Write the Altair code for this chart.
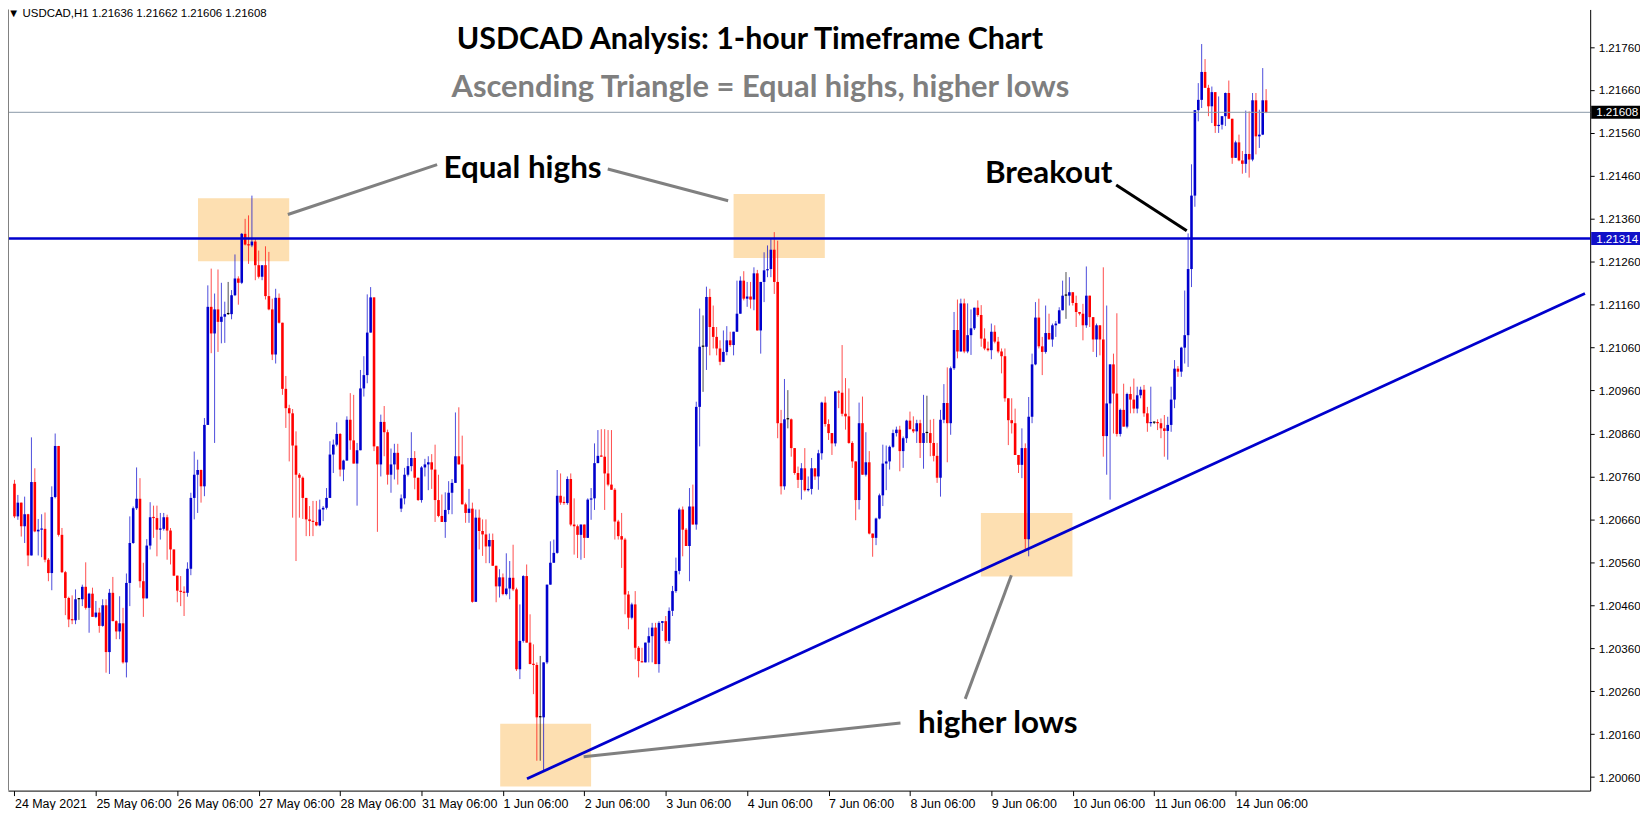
import altair as alt
import pandas as pd

# ---------------- data (USDCAD H1) ----------------
first_open = 1.20743
weekend_gap_bar = 114
weekend_gap_open = 1.20685

closes = [
    1.20667, 1.20699, 1.20644, 1.20672, 1.20576, 1.20747, 1.20632, 1.20636, 1.20638, 1.20566,
    1.20535, 1.20712, 1.20831, 1.20624, 1.20537, 1.20477, 1.20427, 1.20425, 1.20474, 1.20474,
    1.20503, 1.20454, 1.20487, 1.20433, 1.20443, 1.20412, 1.20460, 1.20351, 1.20489, 1.20423,
    1.20399, 1.20418, 1.20327, 1.20512, 1.20605, 1.20686, 1.20708, 1.20516, 1.20476, 1.20599,
    1.20665, 1.20663, 1.20636, 1.20638, 1.20665, 1.20634, 1.20590, 1.20529, 1.20494, 1.20491,
    1.20489, 1.20545, 1.20710, 1.20764, 1.20775, 1.20737, 1.20880, 1.21155, 1.21093, 1.21149,
    1.21120, 1.21132, 1.21138, 1.21138, 1.21182, 1.21221, 1.21211, 1.21325, 1.21300, 1.21298,
    1.21307, 1.21252, 1.21225, 1.21252, 1.21180, 1.21149, 1.21044, 1.21176, 1.21118, 1.20964,
    1.20919, 1.20907, 1.20832, 1.20764, 1.20757, 1.20710, 1.20660, 1.20656, 1.20654, 1.20646,
    1.20683, 1.20687, 1.20710, 1.20811, 1.20834, 1.20859, 1.20776, 1.20797, 1.20892, 1.20844,
    1.20790, 1.20821, 1.20965, 1.20996, 1.21095, 1.21177, 1.20830, 1.20788, 1.20887, 1.20863,
    1.20764, 1.20788, 1.20815, 1.20776, 1.20709, 1.20764, 1.20784, 1.20803, 1.20757, 1.20705,
    1.20781, 1.20788, 1.20793, 1.20776, 1.20705, 1.20668, 1.20654, 1.20682, 1.20722, 1.20745,
    1.20807, 1.20788, 1.20695, 1.20675, 1.20685, 1.20468, 1.20664, 1.20633, 1.20625, 1.20597,
    1.20612, 1.20552, 1.20504, 1.20525, 1.20486, 1.20499, 1.20524, 1.20497, 1.20311, 1.20377,
    1.20528, 1.20373, 1.20323, 1.20321, 1.20199, 1.20199, 1.20327, 1.20508, 1.20559, 1.20582,
    1.20715, 1.20699, 1.20698, 1.20754, 1.20648, 1.20644, 1.20624, 1.20648, 1.20617, 1.20706,
    1.20709, 1.20791, 1.20808, 1.20806, 1.20767, 1.20741, 1.20729, 1.20655, 1.20621, 1.20613,
    1.20485, 1.20431, 1.20462, 1.20361, 1.20330, 1.20327, 1.20373, 1.20388, 1.20408, 1.20323,
    1.20419, 1.20423, 1.20377, 1.20447, 1.20493, 1.20540, 1.20683, 1.20636, 1.20598, 1.20690,
    1.20648, 1.20922, 1.21062, 1.21062, 1.21178, 1.21108, 1.21085, 1.21058, 1.21027, 1.21050,
    1.21077, 1.21066, 1.21097, 1.21139, 1.21216, 1.21174, 1.21179, 1.21172, 1.21233, 1.21100,
    1.21213, 1.21240, 1.21243, 1.21288, 1.21213, 1.20884, 1.20737, 1.20893, 1.20893, 1.20826,
    1.20768, 1.20752, 1.20779, 1.20728, 1.20731, 1.20779, 1.20760, 1.20814, 1.20932, 1.20882,
    1.20861, 1.20837, 1.20958, 1.20955, 1.20906, 1.20900, 1.20838, 1.20795, 1.20705, 1.20884,
    1.20764, 1.20793, 1.20627, 1.20617, 1.20662, 1.20716, 1.20790, 1.20795, 1.20829, 1.20861,
    1.20869, 1.20819, 1.20849, 1.20890, 1.20870, 1.20865, 1.20884, 1.20838, 1.20861, 1.20861,
    1.20838, 1.20808, 1.20757, 1.20892, 1.20931, 1.20884, 1.21012, 1.21101, 1.21051, 1.21163,
    1.21051, 1.21089, 1.21105, 1.21153, 1.21136, 1.21081, 1.21058, 1.21054, 1.21097, 1.21074,
    1.21051, 1.21040, 1.20942, 1.20891, 1.20884, 1.20810, 1.20787, 1.20826, 1.20614, 1.20899,
    1.21021, 1.21130, 1.21063, 1.21050, 1.21094, 1.21079, 1.21112, 1.21116, 1.21147, 1.21181,
    1.21181, 1.21189, 1.21164, 1.21143, 1.21139, 1.21112, 1.21181, 1.21131, 1.21079, 1.21112,
    1.21079, 1.20854, 1.20930, 1.21021, 1.20953, 1.20859, 1.20915, 1.20876, 1.20952, 1.20939,
    1.20918, 1.20949, 1.20962, 1.20907, 1.20884, 1.20885, 1.20885, 1.20884, 1.20872, 1.20866,
    1.20880, 1.20939, 1.21011, 1.21004, 1.21060, 1.21089, 1.21243, 1.21414, 1.21613, 1.21637,
    1.21702, 1.21665, 1.21622, 1.21655, 1.21576, 1.21579, 1.21599, 1.21653, 1.21593, 1.21502,
    1.21538, 1.21496, 1.21488, 1.21511, 1.21498, 1.21636, 1.21552, 1.21556, 1.21636, 1.21608,
]

highs = [
    1.20752, 1.20717, 1.20699, 1.20713, 1.20673, 1.20851, 1.20779, 1.20661, 1.20672, 1.20676,
    1.20570, 1.20737, 1.20860, 1.20831, 1.20640, 1.20540, 1.20480, 1.20483, 1.20497, 1.20477,
    1.20508, 1.20560, 1.20489, 1.20501, 1.20470, 1.20454, 1.20474, 1.20474, 1.20498, 1.20526,
    1.20425, 1.20481, 1.20454, 1.20534, 1.20667, 1.20690, 1.20781, 1.20756, 1.20559, 1.20614,
    1.20700, 1.20692, 1.20692, 1.20675, 1.20675, 1.20671, 1.20640, 1.20590, 1.20529, 1.20528,
    1.20504, 1.20560, 1.20722, 1.20818, 1.20799, 1.20776, 1.20896, 1.21205, 1.21244, 1.21186,
    1.21242, 1.21211, 1.21167, 1.21213, 1.21194, 1.21277, 1.21226, 1.21327, 1.21360, 1.21368,
    1.21414, 1.21313, 1.21286, 1.21252, 1.21296, 1.21283, 1.21174, 1.21197, 1.21186, 1.21118,
    1.20994, 1.20927, 1.20917, 1.20865, 1.20768, 1.20760, 1.20710, 1.20691, 1.20703, 1.20703,
    1.20706, 1.20691, 1.20733, 1.20842, 1.20846, 1.20886, 1.20861, 1.20799, 1.20900, 1.20954,
    1.20950, 1.20838, 1.21008, 1.21040, 1.21184, 1.21201, 1.21174, 1.20830, 1.20904, 1.20924,
    1.20869, 1.20825, 1.20836, 1.20836, 1.20718, 1.20780, 1.20803, 1.20863, 1.20819, 1.20757,
    1.20784, 1.20801, 1.20807, 1.20812, 1.20834, 1.20764, 1.20718, 1.20723, 1.20749, 1.20754,
    1.20909, 1.20921, 1.20855, 1.20699, 1.20731, 1.20699, 1.20683, 1.20683, 1.20660, 1.20660,
    1.20627, 1.20627, 1.20552, 1.20544, 1.20534, 1.20581, 1.20563, 1.20601, 1.20501, 1.20462,
    1.20530, 1.20555, 1.20439, 1.20369, 1.20327, 1.20342, 1.20327, 1.20508, 1.20609, 1.20613,
    1.20775, 1.20767, 1.20713, 1.20760, 1.20767, 1.20709, 1.20648, 1.20648, 1.20648, 1.20709,
    1.20733, 1.20837, 1.20868, 1.20870, 1.20870, 1.20868, 1.20868, 1.20733, 1.20659, 1.20675,
    1.20617, 1.20493, 1.20466, 1.20493, 1.20365, 1.20361, 1.20373, 1.20408, 1.20419, 1.20419,
    1.20423, 1.20423, 1.20435, 1.20455, 1.20505, 1.20571, 1.20687, 1.20690, 1.20640, 1.20733,
    1.20741, 1.20934, 1.21151, 1.21135, 1.21202, 1.21197, 1.21158, 1.21108, 1.21077, 1.21100,
    1.21110, 1.21097, 1.21097, 1.21216, 1.21226, 1.21238, 1.21213, 1.21213, 1.21247, 1.21241,
    1.21213, 1.21282, 1.21298, 1.21313, 1.21329, 1.21309, 1.20915, 1.20987, 1.20961, 1.20895,
    1.20826, 1.20783, 1.20791, 1.20826, 1.20760, 1.20803, 1.20779, 1.20822, 1.20934, 1.20946,
    1.20893, 1.20861, 1.20958, 1.20961, 1.21066, 1.20989, 1.20965, 1.20842, 1.20795, 1.20932,
    1.20946, 1.20863, 1.20819, 1.20627, 1.20664, 1.20720, 1.20834, 1.20832, 1.20832, 1.20869,
    1.20876, 1.20878, 1.20853, 1.20892, 1.20911, 1.20900, 1.20892, 1.20892, 1.20950, 1.20948,
    1.20892, 1.20894, 1.20838, 1.20915, 1.20975, 1.21014, 1.21016, 1.21143, 1.21172, 1.21174,
    1.21174, 1.21163, 1.21149, 1.21153, 1.21170, 1.21159, 1.21105, 1.21074, 1.21116, 1.21112,
    1.21085, 1.21058, 1.21058, 1.20942, 1.20942, 1.20918, 1.20810, 1.20872, 1.20837, 1.20945,
    1.21046, 1.21166, 1.21174, 1.21085, 1.21158, 1.21139, 1.21116, 1.21122, 1.21154, 1.21216,
    1.21236, 1.21224, 1.21189, 1.21181, 1.21143, 1.21162, 1.21249, 1.21181, 1.21131, 1.21116,
    1.21112, 1.21247, 1.21158, 1.21021, 1.21046, 1.21140, 1.20918, 1.20976, 1.20955, 1.20969,
    1.20988, 1.20969, 1.20969, 1.20973, 1.20922, 1.20969, 1.20888, 1.20893, 1.20895, 1.20903,
    1.20899, 1.20969, 1.21031, 1.21017, 1.21062, 1.21193, 1.21326, 1.21487, 1.21613, 1.21676,
    1.21767, 1.21732, 1.21672, 1.21668, 1.21608, 1.21645, 1.21599, 1.21654, 1.21682, 1.21593,
    1.21542, 1.21556, 1.21518, 1.21612, 1.21610, 1.21653, 1.21653, 1.21614, 1.21711, 1.21662,
]

lows = [
    1.20663, 1.20659, 1.20620, 1.20605, 1.20551, 1.20578, 1.20630, 1.20576, 1.20572, 1.20560,
    1.20516, 1.20495, 1.20709, 1.20620, 1.20535, 1.20437, 1.20409, 1.20416, 1.20416, 1.20426,
    1.20458, 1.20450, 1.20396, 1.20433, 1.20430, 1.20396, 1.20410, 1.20303, 1.20300, 1.20423,
    1.20381, 1.20381, 1.20324, 1.20292, 1.20458, 1.20603, 1.20682, 1.20501, 1.20433, 1.20476,
    1.20590, 1.20617, 1.20574, 1.20613, 1.20634, 1.20566, 1.20555, 1.20528, 1.20467, 1.20458,
    1.20435, 1.20480, 1.20530, 1.20660, 1.20675, 1.20699, 1.20714, 1.20880, 1.21047, 1.20838,
    1.21050, 1.21070, 1.21071, 1.21136, 1.21126, 1.21180, 1.21160, 1.21208, 1.21298, 1.21255,
    1.21294, 1.21217, 1.21221, 1.21217, 1.21172, 1.21147, 1.21031, 1.21023, 1.21116, 1.20950,
    1.20873, 1.20795, 1.20664, 1.20563, 1.20664, 1.20661, 1.20621, 1.20621, 1.20621, 1.20644,
    1.20644, 1.20656, 1.20683, 1.20710, 1.20768, 1.20830, 1.20760, 1.20749, 1.20797, 1.20822,
    1.20790, 1.20692, 1.20821, 1.20946, 1.20977, 1.21095, 1.20819, 1.20631, 1.20760, 1.20807,
    1.20741, 1.20722, 1.20753, 1.20741, 1.20677, 1.20695, 1.20760, 1.20772, 1.20730, 1.20703,
    1.20699, 1.20760, 1.20728, 1.20731, 1.20654, 1.20665, 1.20654, 1.20617, 1.20672, 1.20672,
    1.20745, 1.20788, 1.20695, 1.20652, 1.20652, 1.20466, 1.20468, 1.20590, 1.20575, 1.20558,
    1.20558, 1.20552, 1.20467, 1.20478, 1.20483, 1.20483, 1.20474, 1.20493, 1.20307, 1.20288,
    1.20373, 1.20373, 1.20323, 1.20253, 1.20098, 1.20098, 1.20075, 1.20323, 1.20508, 1.20559,
    1.20580, 1.20694, 1.20694, 1.20694, 1.20644, 1.20578, 1.20570, 1.20566, 1.20570, 1.20617,
    1.20659, 1.20682, 1.20791, 1.20806, 1.20682, 1.20737, 1.20729, 1.20613, 1.20613, 1.20547,
    1.20439, 1.20404, 1.20427, 1.20334, 1.20292, 1.20327, 1.20327, 1.20327, 1.20327, 1.20323,
    1.20303, 1.20400, 1.20373, 1.20370, 1.20435, 1.20489, 1.20532, 1.20574, 1.20598, 1.20516,
    1.20648, 1.20636, 1.20830, 1.20957, 1.21008, 1.21042, 1.21058, 1.21042, 1.21019, 1.21027,
    1.21042, 1.21062, 1.21042, 1.21097, 1.21139, 1.21170, 1.21155, 1.21151, 1.21147, 1.21100,
    1.21046, 1.21166, 1.21224, 1.21224, 1.21185, 1.20849, 1.20718, 1.20729, 1.20872, 1.20806,
    1.20764, 1.20733, 1.20706, 1.20725, 1.20725, 1.20718, 1.20752, 1.20729, 1.20799, 1.20876,
    1.20845, 1.20810, 1.20830, 1.20919, 1.20900, 1.20869, 1.20836, 1.20780, 1.20658, 1.20683,
    1.20764, 1.20760, 1.20625, 1.20573, 1.20600, 1.20660, 1.20691, 1.20728, 1.20776, 1.20826,
    1.20853, 1.20772, 1.20780, 1.20838, 1.20870, 1.20861, 1.20838, 1.20803, 1.20778, 1.20838,
    1.20807, 1.20795, 1.20745, 1.20713, 1.20884, 1.20793, 1.20857, 1.21008, 1.21035, 1.21051,
    1.21047, 1.21047, 1.21043, 1.21101, 1.21132, 1.21062, 1.21054, 1.21051, 1.21033, 1.21070,
    1.21047, 1.21000, 1.20934, 1.20833, 1.20860, 1.20810, 1.20768, 1.20756, 1.20590, 1.20574,
    1.20884, 1.21019, 1.21058, 1.20996, 1.21046, 1.21079, 1.21062, 1.21085, 1.21116, 1.21147,
    1.21127, 1.21158, 1.21158, 1.21108, 1.21135, 1.21077, 1.21106, 1.21108, 1.21050, 1.21038,
    1.21042, 1.20806, 1.20764, 1.20706, 1.20860, 1.20853, 1.20853, 1.20876, 1.20872, 1.20907,
    1.20907, 1.20907, 1.20942, 1.20899, 1.20864, 1.20876, 1.20882, 1.20868, 1.20849, 1.20806,
    1.20799, 1.20864, 1.20919, 1.20992, 1.20992, 1.21023, 1.21015, 1.21201, 1.21388, 1.21587,
    1.21618, 1.21665, 1.21599, 1.21583, 1.21560, 1.21560, 1.21568, 1.21576, 1.21593, 1.21488,
    1.21504, 1.21494, 1.21465, 1.21467, 1.21456, 1.21494, 1.21510, 1.21525, 1.21555, 1.21606,
]

assert len(closes) == len(highs) == len(lows) == 370, (len(closes), len(highs), len(lows))

axis_label_bars = [0, 24, 48, 72, 96, 120, 144, 168, 192, 216, 240, 264, 288, 312, 336, 360]
axis_label_text = ["24 May 2021", "25 May 06:00", "26 May 06:00", "27 May 06:00",
                   "28 May 06:00", "31 May 06:00", "1 Jun 06:00", "2 Jun 06:00",
                   "3 Jun 06:00", "4 Jun 06:00", "7 Jun 06:00", "8 Jun 06:00",
                   "9 Jun 06:00", "10 Jun 06:00", "11 Jun 06:00", "14 Jun 06:00"]
price_ticks = [1.20060, 1.20160, 1.20260, 1.20360, 1.20460, 1.20560, 1.20660, 1.20760,
               1.20860, 1.20960, 1.21060, 1.21160, 1.21260, 1.21360, 1.21460, 1.21560,
               1.21660, 1.21760]

resistance_level = 1.21314
last_price = 1.21608
header_text = "\u25BC USDCAD,H1  1.21636 1.21662 1.21606 1.21608"

# trendline (bar index, price)
trend_start = (151.1, 1.20056)
trend_end = (463.0, 1.21186)

# highlight boxes: bar range & price range
box_i1 = [54.1, 212.0, 284.9, 143.2]
box_i2 = [81.0, 238.9, 311.9, 170.0]
box_p1 = [1.21408, 1.21418, 1.20675, 1.20184]
box_p2 = [1.21261, 1.21269, 1.20527, 1.20038]

# connector lines
seg_i1 = [80.6, 174.9, 261.2, 280.3]
seg_p1 = [1.21370, 1.21476, 1.20186, 1.20242]
seg_i2 = [124.6, 210.4, 167.8, 293.9]
seg_p2 = [1.21486, 1.21402, 1.20107, 1.20530]
breakout_seg = (324.8, 1.21439, 345.6, 1.21332)

# annotation texts (center at bar index, price)
ann_text = ["USDCAD Analysis: 1-hour Timeframe Chart",
            "Ascending Triangle = Equal highs, higher lows",
            "Equal highs", "Breakout", "higher lows"]
ann_i = [216.8, 219.9, 149.8, 304.9, 289.9]
ann_p = [1.21776, 1.21664, 1.21476, 1.21465, 1.20184]
ann_color = ["#000000", "#7F7F7F", "#000000", "#000000", "#000000"]
ann_size = [30.5, 31, 31.5, 31.5, 31.5]

# ---------------- build table ----------------
opens = [first_open] + closes[:-1]
opens[weekend_gap_bar] = weekend_gap_open
rows = []
for i, (o, h, l, c) in enumerate(zip(opens, highs, lows, closes)):
    hi = max(h, o, c)
    lo = min(l, o, c)
    bot = min(o, c)
    top = max(o, c)
    if top - bot < 0.00003:
        top = bot + 0.000028
    d = "up" if c > o else ("down" if c < o else "doji")
    rows.append(dict(i=i, o=o, h=hi, l=lo, c=c, bot=bot, top=top, dir=d))
df = pd.DataFrame(rows)

W, H = 1588, 784
XMIN, XMAX = -0.44, 463.07
YMIN, YMAX = 1.200284, 1.218475
xs = alt.Scale(domain=[XMIN, XMAX], nice=False, zero=False)
ys = alt.Scale(domain=[YMIN, YMAX], nice=False, zero=False)
cscale = alt.Scale(domain=["up", "down", "doji"], range=["#0000CD", "#FF0000", "#000000"])

label_expr = "[" + ",".join("'%s'" % t for t in axis_label_text) + "][round(datum.value/24)]"
xaxis = alt.Axis(values=axis_label_bars, labelExpr=label_expr, grid=False, title=None,
                 labelAlign="left", labelAngle=0, labelFlush=False,
                 labelOverlap=False, labelBound=False, tickSize=5, labelPadding=2,
                 domainColor="#000000", tickColor="#000000", labelColor="#000000",
                 labelFont="Liberation Sans", labelFontSize=12.5)
yaxis = alt.Axis(orient="right", values=price_ticks, format=".5f", grid=False, title=None,
                 tickSize=4, labelPadding=4, labelFlush=False, labelOverlap=False,
                 domainColor="#000000", tickColor="#000000", labelColor="#000000",
                 labelFont="Liberation Sans", labelFontSize=11.7)


def X(f):
    return alt.X(f, scale=xs, axis=xaxis)


def Y(f):
    return alt.Y(f, scale=ys, axis=yaxis)


boxes_df = pd.DataFrame(dict(i1=box_i1, i2=box_i2, p1=box_p1, p2=box_p2))
boxes = alt.Chart(boxes_df).mark_rect(color="#FDDFB1").encode(
    x=X("i1:Q"), x2="i2:Q", y=Y("p1:Q"), y2="p2:Q")

wicks = alt.Chart(df).mark_rule(strokeWidth=1, opacity=0.7).encode(
    x=X("i:Q"), y=Y("l:Q"), y2="h:Q",
    color=alt.Color("dir:N", scale=cscale, legend=None))

bodies = alt.Chart(df).mark_bar(width=2.6).encode(
    x=X("i:Q"), y=Y("bot:Q"), y2="top:Q",
    color=alt.Color("dir:N", scale=cscale, legend=None))

last_line = alt.Chart(pd.DataFrame(dict(p=[last_price]))).mark_rule(
    color="#8A99A8", strokeWidth=1).encode(y=Y("p:Q"))

res_line = alt.Chart(pd.DataFrame(dict(p=[resistance_level]))).mark_rule(
    color="#0000CD", strokeWidth=2.6).encode(y=Y("p:Q"))

trend = alt.Chart(pd.DataFrame(dict(i1=[trend_start[0]], p1=[trend_start[1]],
                                    i2=[trend_end[0]], p2=[trend_end[1]]))).mark_rule(
    color="#0000CD", strokeWidth=2.8).encode(x=X("i1:Q"), y=Y("p1:Q"), x2="i2:Q", y2="p2:Q")

segs = alt.Chart(pd.DataFrame(dict(i1=seg_i1, p1=seg_p1, i2=seg_i2, p2=seg_p2))).mark_rule(
    color="#808080", strokeWidth=3).encode(x=X("i1:Q"), y=Y("p1:Q"), x2="i2:Q", y2="p2:Q")

brk = alt.Chart(pd.DataFrame(dict(i1=[breakout_seg[0]], p1=[breakout_seg[1]],
                                  i2=[breakout_seg[2]], p2=[breakout_seg[3]]))).mark_rule(
    color="#000000", strokeWidth=3).encode(x=X("i1:Q"), y=Y("p1:Q"), x2="i2:Q", y2="p2:Q")

ann_df = pd.DataFrame(dict(t=ann_text, i=ann_i, p=ann_p, col=ann_color, s=ann_size))
ann = alt.Chart(ann_df).mark_text(font="Lato", fontWeight="bold", align="center",
                                  baseline="middle").encode(
    x=X("i:Q"), y=Y("p:Q"), text="t:N",
    color=alt.Color("col:N", scale=None), size=alt.Size("s:Q", scale=None))

tag_df = pd.DataFrame(dict(p=[last_price, resistance_level],
                           t=["%.5f" % last_price, "%.5f" % resistance_level],
                           bg=["#000000", "#1010C8"]))
tag_box = alt.Chart(tag_df).transform_calculate(
    lo="datum.p - 0.00015", hi="datum.p + 0.00015").mark_rect().encode(
    x=alt.value(W + 1), x2=alt.value(W + 50), y=Y("lo:Q"), y2="hi:Q",
    color=alt.Color("bg:N", scale=None))
tag_txt = alt.Chart(tag_df).mark_text(align="left", baseline="middle", color="white",
                                      font="Liberation Sans", fontSize=11.7).encode(
    x=alt.value(W + 6), y=Y("p:Q"), text="t:N")

header = alt.Chart(pd.DataFrame(dict(t=[header_text]))).mark_text(
    align="left", baseline="middle", font="Liberation Sans", fontSize=11.5,
    color="#000000").encode(x=alt.value(0), y=alt.value(5), text="t:N")

left_border = alt.Chart(pd.DataFrame(dict(v=[0]))).mark_rule(color="#808080").encode(
    x=alt.value(0.5), y=alt.value(0), y2=alt.value(H))

chart = alt.layer(boxes, wicks, bodies, last_line, res_line, trend, segs, brk, ann,
                  tag_box, tag_txt, header, left_border).properties(
    width=W, height=H,
    padding={"left": 0, "top": 0, "right": 50, "bottom": 18},
    autosize=alt.AutoSizeParams(type="none"),
    background="white",
).configure_view(stroke=None)

chart.save("out.html", embed_options={"renderer": "svg", "actions": False})
